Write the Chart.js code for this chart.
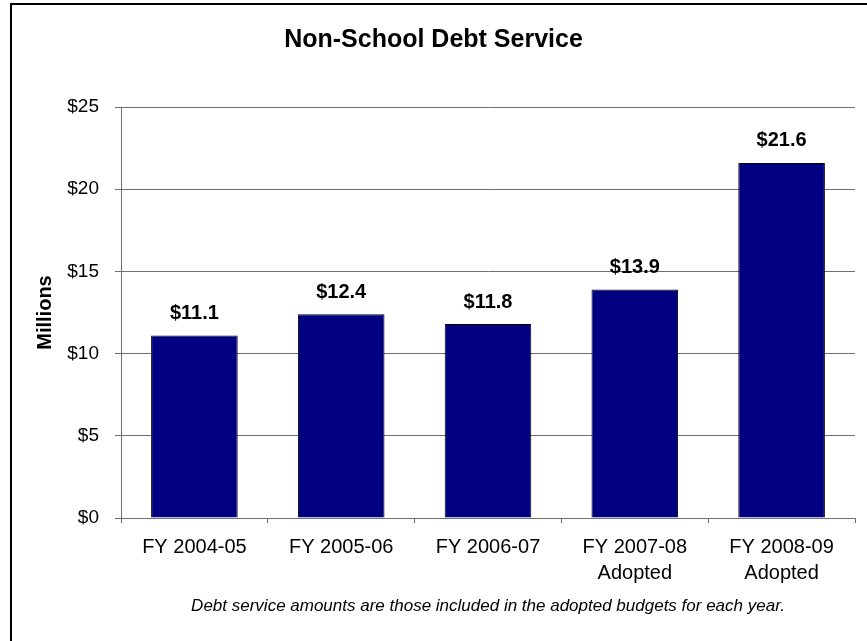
<!DOCTYPE html>
<html>
<head>
<meta charset="utf-8">
<script src="https://cdn.jsdelivr.net/npm/chart.js@4.4.1/dist/chart.umd.min.js"></script>
<style>
  html, body { margin: 0; padding: 0; background: #fff; }
  #wrap { position: relative; width: 867px; height: 641px; }
</style>
</head>
<body>
<div id="wrap"><canvas id="debtChart" width="867" height="641"></canvas></div>
<script>
// データ
const years = ['FY 2004-05', 'FY 2005-06', 'FY 2006-07', ['FY 2007-08', 'Adopted'], ['FY 2008-09', 'Adopted']];
const debtService = [11.1, 12.4, 11.8, 13.9, 21.6];
const yTicks = [0, 5, 10, 15, 20, 25];

const FONT = 'Liberation Sans, Arial, sans-serif';

// 外枠（左と上だけ見えている）
const framePlugin = {
    id: 'frame',
    beforeDraw(chart) {
        const c = chart.ctx;
        c.save();
        c.strokeStyle = '#000';
        c.lineWidth = 2;
        c.beginPath();
        c.moveTo(11, chart.height);
        c.lineTo(11, 4);
        c.lineTo(chart.width, 4);
        c.stroke();
        c.restore();
    }
};

// 棒の上の金額ラベル
const valueLabels = {
    id: 'valueLabels',
    afterDatasetsDraw(chart) {
        const c = chart.ctx;
        const meta = chart.getDatasetMeta(0);
        c.save();
        c.font = 'bold 20px ' + FONT;
        c.fillStyle = '#000';
        c.textAlign = 'center';
        c.textBaseline = 'middle';
        meta.data.forEach((bar, i) => {
            c.fillText('$' + debtService[i].toFixed(1), bar.x, bar.y - 22);
        });
        c.restore();
    }
};

new Chart(document.getElementById('debtChart'), {
    type: 'bar',
    data: {
        labels: years,
        datasets: [{
            data: debtService,
            backgroundColor: '#000080',
            borderColor: '#000',
            borderWidth: 1,
            barPercentage: 0.59,
            categoryPercentage: 1
        }]
    },
    options: {
        responsive: false,
        animation: false,
        layout: { padding: { left: 12, right: 12, top: 0, bottom: 0 } },
        plugins: {
            legend: { display: false },
            tooltip: { enabled: false },
            title: {
                display: true,
                text: 'Non-School Debt Service',
                color: '#000',
                font: { family: FONT, size: 25, weight: 'bold', lineHeight: 1.2 },
                padding: { top: 25.5, bottom: 51.5 }
            },
            subtitle: {
                display: true,
                position: 'bottom',
                fullSize: false,
                text: 'Debt service amounts are those included in the adopted budgets for each year.',
                color: '#000',
                font: { family: FONT, size: 17, style: 'italic', lineHeight: 1.2 },
                padding: { top: 7.8, bottom: 24.8 }
            }
        },
        scales: {
            x: {
                grid: {
                    display: true,
                    drawOnChartArea: false,
                    drawTicks: true,
                    tickLength: 5,
                    color: '#6e6e6e'
                },
                border: { display: true, color: '#6e6e6e' },
                ticks: {
                    color: '#000',
                    font: { family: FONT, size: 20, lineHeight: '26px' },
                    padding: 11.5,
                    maxRotation: 0,
                    autoSkip: false
                },
                afterFit(scale) { scale.height = 70; }
            },
            y: {
                min: 0,
                max: 25,
                afterBuildTicks(scale) {
                    scale.ticks = yTicks.map(v => ({ value: v }));
                },
                grid: {
                    color: '#6e6e6e',
                    tickLength: 6,
                    drawTicks: true
                },
                border: { display: true, color: '#6e6e6e' },
                ticks: {
                    color: '#000',
                    font: { family: FONT, size: 19 },
                    padding: 16,
                    callback: v => '$' + v
                },
                title: {
                    display: true,
                    text: 'Millions',
                    color: '#000',
                    font: { family: FONT, size: 20, weight: 'bold', lineHeight: 1.2 },
                    padding: { top: 21, bottom: 0 }
                },
                afterFit(scale) { scale.width = 109; }
            }
        }
    },
    plugins: [framePlugin, valueLabels]
});
</script>
</body>
</html>
